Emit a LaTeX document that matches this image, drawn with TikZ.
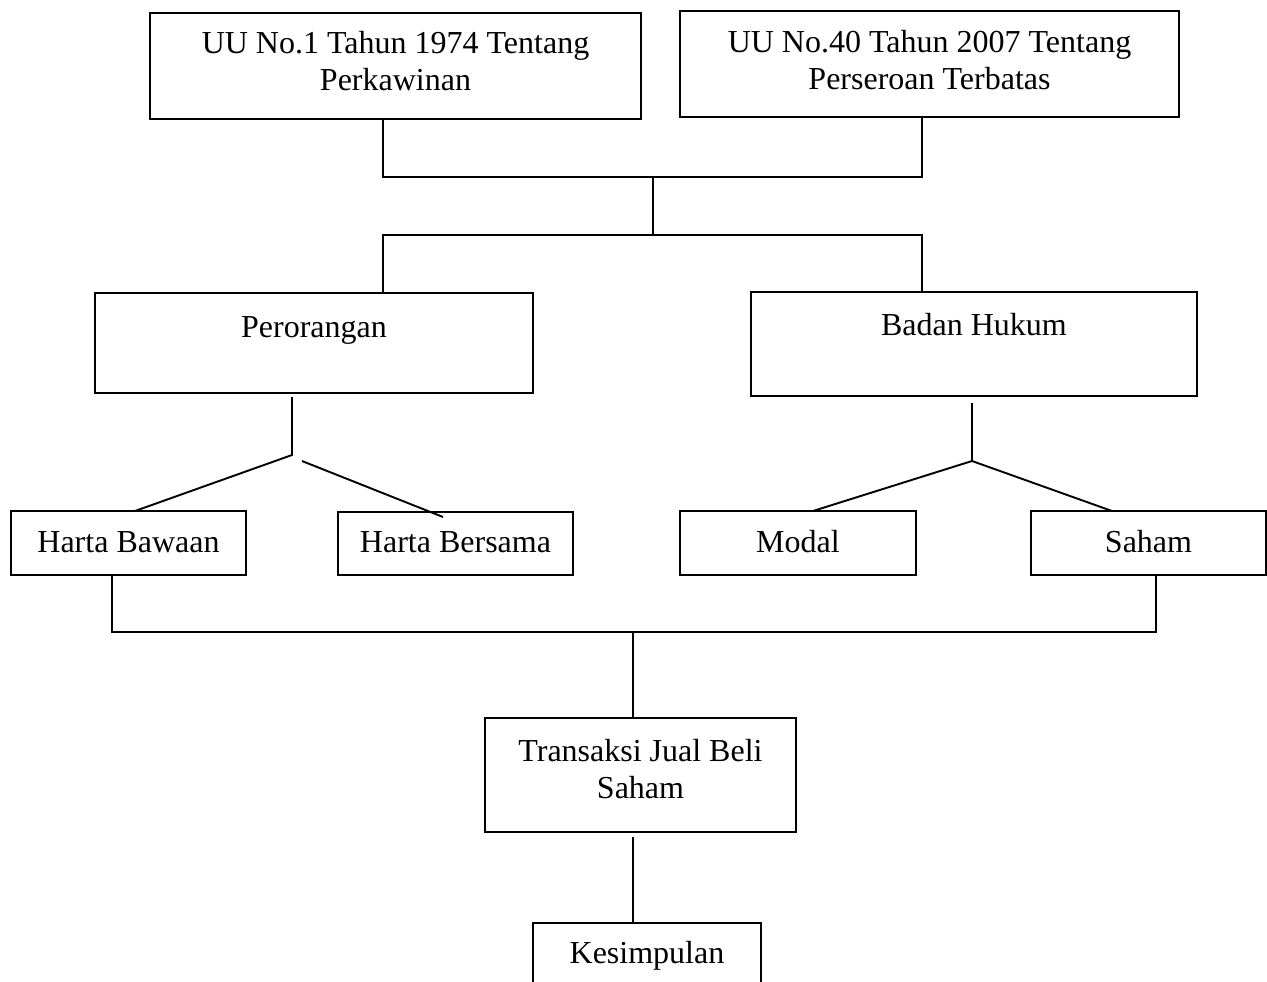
\documentclass[tikz,border=0pt]{standalone}
\usepackage{fontspec}
\setmainfont{Liberation Serif}
\begin{document}
\begin{tikzpicture}[x=1pt,y=-1pt,
  box/.style={draw=black, line width=1.9pt, rectangle, inner sep=0pt},
  txt/.style={font=\fontsize{32}{37}\selectfont, inner sep=0pt, anchor=base, align=center},
  ln/.style={draw=black, line width=1.9pt}]
\useasboundingbox (0,0) rectangle (1267,982);
\fill[white] (0,0) rectangle (1267,982);

% boxes
\node[box, minimum width=491pt, minimum height=106pt] (uu1) at (395.5,66) {};
\node[box, minimum width=499pt, minimum height=106pt] (uu40) at (929.5,64) {};
\node[box, minimum width=438pt, minimum height=100pt] (per) at (314,343) {};
\node[box, minimum width=446pt, minimum height=104pt] (bh) at (974,344) {};
\node[box, minimum width=235pt, minimum height=64pt] (hbw) at (128.5,543) {};
\node[box, minimum width=235pt, minimum height=63pt] (hbs) at (455.5,543.5) {};
\node[box, minimum width=236pt, minimum height=64pt] (mod) at (798,543) {};
\node[box, minimum width=235pt, minimum height=64pt] (sah) at (1148.5,543) {};
\node[box, minimum width=311pt, minimum height=114pt] (trans) at (640.5,775) {};
\begin{scope}
\clip (0,0) rectangle (1267,982);
\node[box, minimum width=228pt, minimum height=90pt] (kes) at (647,968) {};
\end{scope}

% texts (base anchor = baseline of the last line)
\node[txt] (tuu1) at (395.5,91) {UU No.1 Tahun 1974 Tentang\\Perkawinan};
\node[txt] (tuu40) at (929.5,89) {UU No.40 Tahun 2007 Tentang\\Perseroan Terbatas};
\node[txt] (tper) at (314,337) {Perorangan};
\node[txt] (tbh) at (974,335) {Badan Hukum};
\node[txt] (thbw) at (128.5,552) {Harta Bawaan};
\node[txt] (thbs) at (455.5,552) {Harta Bersama};
\node[txt] (tmod) at (798,552) {Modal};
\node[txt] (tsah) at (1148.5,552) {Saham};
\node[txt] (ttrans) at (640.5,798) {Transaksi Jual Beli\\Saham};
\node[txt] (tkes) at (647,963) {Kesimpulan};

% junction coordinates
\coordinate (j1) at (383,177);
\coordinate (j2) at (922,177);
\coordinate (jm) at (653,177);
\coordinate (jn) at (653,235);
\coordinate (j3) at (383,235);
\coordinate (j4) at (922,235);
\coordinate (ps1) at (292,397);
\coordinate (ps2) at (292,455);
\coordinate (pl) at (135,511);
\coordinate (pr1) at (302,461);
\coordinate (pr2) at (443,517);
\coordinate (bs1) at (972,403);
\coordinate (bs2) at (972,461);
\coordinate (bl) at (813,511);
\coordinate (br) at (1112,511);
\coordinate (k1) at (112,632);
\coordinate (k2) at (1156,632);
\coordinate (kb) at (633,632);
\coordinate (tb1) at (633,837);

% connectors
\draw[ln] (uu1.south -| j1) -- (j1) -- (j2) -- (uu40.south -| j2);
\draw[ln] (jm) -- (jn);
\draw[ln] (per.north -| j3) -- (j3) -- (j4) -- (bh.north -| j4);
\draw[ln] (ps1) -- (ps2) -- (pl);
\draw[ln] (pr1) -- (pr2);
\draw[ln] (bs1) -- (bs2) -- (bl);
\draw[ln] (bs2) -- (br);
\draw[ln] (hbw.south -| k1) -- (k1) -- (k2) -- (sah.south -| k2);
\draw[ln] (kb) -- (trans.north -| kb);
\draw[ln] (tb1) -- (kes.north -| tb1);
\end{tikzpicture}
\end{document}
